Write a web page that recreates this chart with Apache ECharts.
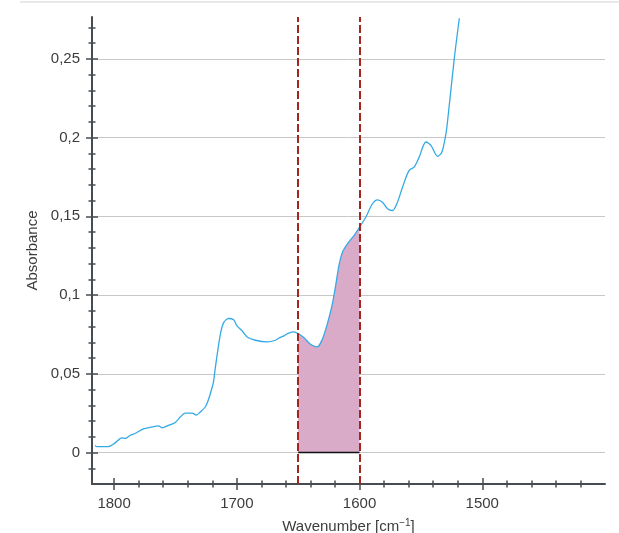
<!DOCTYPE html>
<html>
<head>
<meta charset="utf-8">
<script src="https://cdn.jsdelivr.net/npm/echarts@6/dist/echarts.min.js"></script>
<style>
  html, body { margin: 0; padding: 0; background: #fff; }
  #chart { width: 619px; height: 533px; }
</style>
</head>
<body>
<div id="chart"></div>
<script>
// IR spectrum, amide I band integrated between the two dashed markers
const wavenumber = [
  1815.5, 1814.2, 1804.7, 1799.2, 1793.7, 1791.0, 1787.0, 1782.9, 1776.1, 1770.6,
  1763.8, 1761.1, 1755.7, 1750.2, 1746.1, 1742.1, 1736.5, 1733.0, 1729.8, 1725.7,
  1723.0, 1720.2, 1718.9, 1717.5, 1713.4, 1710.7, 1706.6, 1702.6, 1699.8, 1695.7,
  1691.6, 1684.8, 1675.3, 1668.5, 1665.8, 1661.7, 1657.6, 1653.5, 1650.0, 1645.4,
  1640.0, 1634.4, 1630.3, 1626.3, 1622.2, 1619.5, 1616.8, 1614.0, 1609.9, 1604.5,
  1600.0, 1594.9, 1589.5, 1585.4, 1581.3, 1577.2, 1573.1, 1569.1, 1565.0, 1559.6,
  1555.5, 1551.4, 1545.9, 1541.9, 1536.4, 1532.9, 1529.6, 1528.2, 1522.8, 1518.7
];
const absorbance = [
  0.0045, 0.0038, 0.0038, 0.0061, 0.0093, 0.0089, 0.0108, 0.0121, 0.0150, 0.0159,
  0.0169, 0.0157, 0.0172, 0.0191, 0.0225, 0.0250, 0.0250, 0.0238, 0.0257, 0.0289,
  0.0338, 0.0411, 0.0454, 0.0539, 0.0752, 0.0825, 0.0851, 0.0843, 0.0804, 0.0773,
  0.0734, 0.0713, 0.0703, 0.0713, 0.0726, 0.0741, 0.0758, 0.0766, 0.0755, 0.0730,
  0.0688, 0.0671, 0.0720, 0.0815, 0.0943, 0.1059, 0.1187, 0.1271, 0.1325, 0.1378,
  0.1432, 0.1494, 0.1580, 0.1605, 0.1590, 0.1548, 0.1537, 0.1590, 0.1685, 0.1792,
  0.1813, 0.1876, 0.1972, 0.1951, 0.1881, 0.1908, 0.2025, 0.2110, 0.2503, 0.2758
];

const bandFrom = 1650;
const bandTo = 1600;

const xMajor = [1500, 1600, 1700, 1800];
const xMinor = [1420, 1440, 1460, 1480, 1520, 1540, 1560, 1580, 1620, 1640,
                1660, 1680, 1720, 1740, 1760, 1780];
const yMajor = [0, 0.05, 0.1, 0.15, 0.2, 0.25];
const yMinor = [-0.01, 0.01, 0.02, 0.03, 0.04, 0.06, 0.07, 0.08, 0.09, 0.11, 0.12,
                0.13, 0.14, 0.16, 0.17, 0.18, 0.19, 0.21, 0.22, 0.23, 0.24, 0.26, 0.27];

const X_MIN = 1400, X_MAX = 1818;
const Y_MIN = -0.02, Y_MAX = 0.2766;

const AXIS_COLOR = '#474c50';
const TEXT_COLOR = '#3c3c3c';
const FONT = '"Liberation Sans", Arial, sans-serif';

const spectrum = wavenumber.map((w, i) => [w, absorbance[i]]);
const band = spectrum.filter(p => p[0] <= bandFrom && p[0] >= bandTo);

// bare axis used only to draw extra ticks (inside / outside, major / minor)
function tickAxis(base, values, len, inside) {
  return {
    type: 'value', min: base.min, max: base.max, inverse: base.inverse,
    position: base.position,
    axisLine: { show: false, onZero: false },
    axisLabel: { show: false }, splitLine: { show: false },
    axisTick: { show: true, inside: inside, length: len, customValues: values,
                lineStyle: { color: AXIS_COLOR, width: 1.5 } },
  };
}

const xBase = { min: X_MIN, max: X_MAX, inverse: true, position: 'bottom' };
const yBase = { min: Y_MIN, max: Y_MAX, inverse: false, position: 'left' };

const chart = echarts.init(document.getElementById('chart'));

chart.setOption({
  animation: false,
  backgroundColor: '#fff',
  textStyle: { fontFamily: FONT },
  grid: { left: 92, right: 14, top: 17, bottom: 49, containLabel: false, outerBoundsMode: 'none' },
  graphic: [{
    type: 'line', shape: { x1: 20, y1: 2, x2: 619, y2: 2 },
    style: { stroke: '#e8e8e8', lineWidth: 2 }, silent: true,
  }],
  xAxis: [
    {
      type: 'value', min: X_MIN, max: X_MAX, inverse: true, position: 'bottom',
      name: '{a|Wavenumber [cm}{s|−1}{a|]}',
      nameLocation: 'middle', nameGap: 34,
      nameTextStyle: {
        rich: {
          a: { fontSize: 15, color: TEXT_COLOR, fontFamily: FONT, lineHeight: 18 },
          s: { fontSize: 10, color: TEXT_COLOR, fontFamily: FONT, lineHeight: 10, verticalAlign: 'top' },
        },
      },
      axisLine: { show: true, onZero: false, lineStyle: { color: AXIS_COLOR, width: 2 } },
      axisTick: { show: false },
      axisLabel: {
        customValues: xMajor, color: TEXT_COLOR, fontSize: 15, margin: 12, fontFamily: FONT,
        formatter: v => String(v),
      },
      splitLine: { show: false },
    },
    tickAxis(xBase, xMajor, 6, false),
    tickAxis(xBase, xMajor, 6, true),
    tickAxis(xBase, xMinor, 3.5, false),
    tickAxis(xBase, xMinor, 3.5, true),
  ],
  yAxis: [
    {
      type: 'value', min: Y_MIN, max: Y_MAX, position: 'left',
      name: 'Absorbance', nameLocation: 'middle', nameGap: 52,
      nameTextStyle: { fontSize: 15, color: TEXT_COLOR, fontFamily: FONT },
      axisLine: { show: true, onZero: false, lineStyle: { color: AXIS_COLOR, width: 2 } },
      axisTick: { show: true, length: 6, customValues: yMajor, lineStyle: { color: AXIS_COLOR, width: 1.5 } },
      axisLabel: {
        customValues: yMajor, color: TEXT_COLOR, fontSize: 15, margin: 12, fontFamily: FONT,
        formatter: v => String(v).replace('.', ','),
      },
      splitLine: { show: true, lineStyle: { color: '#c8c8c8', width: 1 } },
    },
    tickAxis(yBase, yMajor, 6, true),
    tickAxis(yBase, yMinor, 3.5, false),
    tickAxis(yBase, yMinor, 3.5, true),
  ],
  series: [
    {
      name: 'integrated band',
      type: 'line',
      data: band,
      symbol: 'none',
      lineStyle: { width: 0 },
      areaStyle: { color: '#d9abc9', opacity: 1, origin: 0 },
      z: 2,
    },
    {
      name: 'baseline',
      type: 'line',
      data: [[bandFrom, 0], [bandTo, 0]],
      symbol: 'none',
      lineStyle: { color: '#111', width: 1.5 },
      z: 3,
    },
    {
      name: 'spectrum',
      type: 'line',
      data: spectrum,
      symbol: 'none',
      smooth: 0.3,
      lineStyle: { color: '#35a9e6', width: 1.3 },
      z: 4,
      markLine: {
        silent: true,
        symbol: 'none',
        label: { show: false },
        lineStyle: { color: '#a3271f', width: 2, type: [8, 3] },
        data: [{ xAxis: bandFrom }, { xAxis: bandTo }],
        z: 5,
      },
    },
  ],
});
</script>
</body>
</html>
